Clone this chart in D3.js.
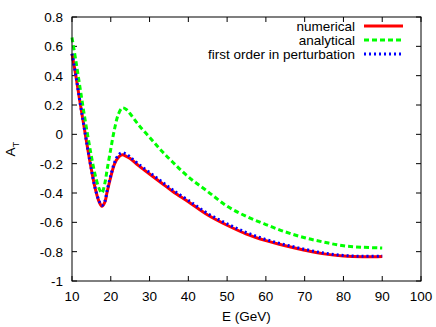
<!DOCTYPE html>
<html>
<head>
<meta charset="utf-8">
<script src="https://cdn.jsdelivr.net/npm/d3@7"></script>
<style>
  body { margin: 0; background: #fff; }
  svg { display: block; font-family: "Liberation Sans", Arial, sans-serif; }
</style>
</head>
<body>
<div id="chart"></div>
<script>
// energies (GeV) shared by every curve
const energy = [10, 11, 12, 13, 14, 15, 16, 17, 17.7, 18.5, 19, 20, 21, 22, 23, 24, 25, 27, 30, 33, 36, 40, 45, 50, 55, 60, 65, 70, 75, 80, 85, 90];

const numerical = [0.55, 0.40, 0.23, 0.07, -0.09, -0.24, -0.37, -0.46, -0.49, -0.46, -0.40, -0.29, -0.20, -0.155, -0.14, -0.15, -0.165, -0.21, -0.27, -0.33, -0.39, -0.46, -0.55, -0.62, -0.68, -0.725, -0.76, -0.79, -0.815, -0.83, -0.835, -0.833];
const analytical = [0.66, 0.50, 0.33, 0.16, 0.0, -0.15, -0.28, -0.37, -0.40, -0.33, -0.25, -0.10, 0.04, 0.14, 0.18, 0.17, 0.14, 0.07, -0.02, -0.11, -0.19, -0.29, -0.39, -0.49, -0.56, -0.615, -0.665, -0.705, -0.735, -0.76, -0.77, -0.775];
const firstOrder = [0.55, 0.40, 0.23, 0.07, -0.09, -0.24, -0.37, -0.455, -0.485, -0.455, -0.39, -0.28, -0.19, -0.14, -0.125, -0.135, -0.155, -0.20, -0.26, -0.32, -0.38, -0.45, -0.54, -0.61, -0.67, -0.717, -0.753, -0.784, -0.81, -0.826, -0.832, -0.83];

const xTicks = [10, 20, 30, 40, 50, 60, 70, 80, 90, 100];
const yTicks = [-1, -0.8, -0.6, -0.4, -0.2, 0, 0.2, 0.4, 0.6, 0.8];

const series = [
  { name: "numerical", values: numerical, color: "#ff0000", dash: null },
  { name: "analytical", values: analytical, color: "#00ff00", dash: "5,3" },
  { name: "first order in perturbation", values: firstOrder, color: "#0000ff", dash: "2,3" }
];

const WIDTH = 436, HEIGHT = 327;
const margin = { left: 72, right: 15, top: 17, bottom: 46 };
const plotW = WIDTH - margin.left - margin.right;
const plotH = HEIGHT - margin.top - margin.bottom;

const svg = d3.select("#chart").append("svg")
  .attr("width", WIDTH)
  .attr("height", HEIGHT);

const x = d3.scaleLinear().domain([10, 100]).range([margin.left, margin.left + plotW]);
const y = d3.scaleLinear().domain([-1, 0.8]).range([margin.top + plotH, margin.top]);

// ticks pointing inward, mirrored on top and right
const TICK = 5;
const ticks = svg.append("g").attr("stroke", "#000").attr("stroke-width", 1);
xTicks.forEach(t => {
  ticks.append("line").attr("x1", x(t)).attr("x2", x(t)).attr("y1", y(-1)).attr("y2", y(-1) - TICK);
  ticks.append("line").attr("x1", x(t)).attr("x2", x(t)).attr("y1", y(0.8)).attr("y2", y(0.8) + TICK);
});
yTicks.forEach(t => {
  ticks.append("line").attr("x1", x(10)).attr("x2", x(10) + TICK).attr("y1", y(t)).attr("y2", y(t));
  ticks.append("line").attr("x1", x(100)).attr("x2", x(100) - TICK).attr("y1", y(t)).attr("y2", y(t));
});

// tick labels
svg.append("g").selectAll("text").data(xTicks).enter().append("text")
  .attr("x", d => x(d)).attr("y", y(-1) + 20)
  .attr("text-anchor", "middle").attr("font-size", "13.5px")
  .text(d => d);

svg.append("g").selectAll("text").data(yTicks).enter().append("text")
  .attr("x", x(10) - 9).attr("y", d => y(d) + 5)
  .attr("text-anchor", "end").attr("font-size", "13.5px")
  .text(d => d);

// axis titles
svg.append("text")
  .attr("x", (x(10) + x(100)) / 2).attr("y", y(-1) + 40)
  .attr("text-anchor", "middle").attr("font-size", "13.5px")
  .text("E (GeV)");

const yLab = svg.append("text")
  .attr("transform", `translate(15, ${(y(-1) + y(0.8)) / 2}) rotate(-90)`)
  .attr("text-anchor", "middle").attr("font-size", "13.5px");
yLab.append("tspan").text("A");
yLab.append("tspan").attr("font-size", "9.5px").attr("dy", 4).text("T");

// curves
const line = d3.line()
  .x((d, i) => x(energy[i]))
  .y(d => y(d))
  .curve(d3.curveCatmullRom.alpha(0.5));

series.forEach(s => {
  svg.append("path")
    .attr("d", line(s.values))
    .attr("fill", "none")
    .attr("stroke", s.color)
    .attr("stroke-width", 3)
    .attr("stroke-dasharray", s.dash);
});

// frame
svg.append("rect")
  .attr("x", x(10)).attr("y", y(0.8))
  .attr("width", x(100) - x(10)).attr("height", y(-1) - y(0.8))
  .attr("fill", "none").attr("stroke", "#000").attr("stroke-width", 1);

// legend
const legend = svg.append("g");
series.forEach((s, i) => {
  const ly = 26 + i * 14;
  legend.append("text")
    .attr("x", 355).attr("y", ly + 5)
    .attr("text-anchor", "end").attr("font-size", "13.5px")
    .text(s.name);
  legend.append("line")
    .attr("x1", 364).attr("x2", 403).attr("y1", ly).attr("y2", ly)
    .attr("stroke", s.color).attr("stroke-width", 3)
    .attr("stroke-dasharray", s.dash);
});
</script>
</body>
</html>
